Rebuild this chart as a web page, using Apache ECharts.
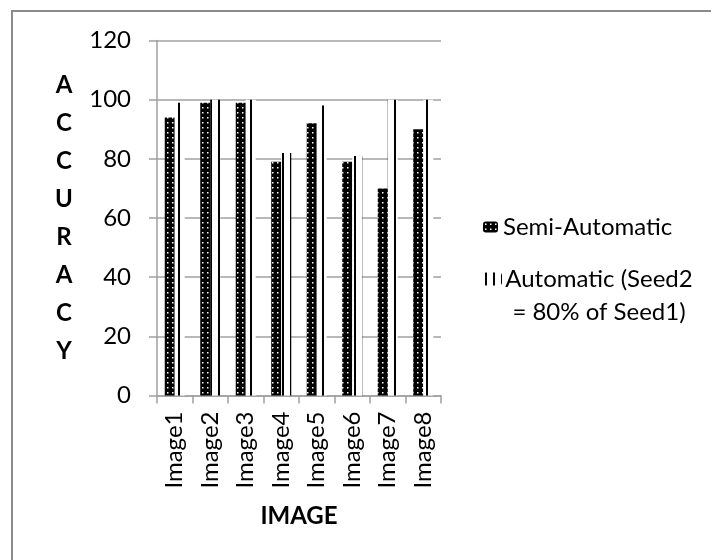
<!DOCTYPE html>
<html><head><meta charset="utf-8">
<script src="https://cdn.jsdelivr.net/npm/echarts@6/dist/echarts.min.js"></script>
<style>html,body{margin:0;padding:0;background:#fff}#c{width:711px;height:560px}</style>
</head><body><div id="c"></div>
<script>
const categories = ['Image1','Image2','Image3','Image4','Image5','Image6','Image7','Image8'];
const semiAutomatic = [94,99,99,79,92,79,70,90];
const automatic = [99,100,100,82,98,81,100,100];
const seriesNames = ['Semi-Automatic','Automatic (Seed2 = 80% of Seed1)'];
const yTitle = 'ACCURACY';
const xTitle = 'IMAGE';

const FONT = 'Lato';
const FS = 24;
function dotPattern(){
  const c=document.createElement('canvas'); c.width=10; c.height=10;
  const g=c.getContext('2d'); g.fillStyle='#000'; g.fillRect(0,0,10,10);
  g.fillStyle='#fff'; g.fillRect(4,4,3,3); return c;
}
function linePattern(){
  const c=document.createElement('canvas'); c.width=8; c.height=8;
  const g=c.getContext('2d'); g.fillStyle='#fff'; g.fillRect(0,0,8,8);
  g.fillStyle='#000'; g.fillRect(2,0,2,8); return c;
}
const chart = echarts.init(document.getElementById('c'), null, {renderer:'canvas'});
const gray = '#a0a0a0';
chart.setOption({
  animation:false,
  backgroundColor:'#fff',
  grid:{left:157,right:270,top:40.5,bottom:164.5,containLabel:false,outerBoundsMode:'none'},
  graphic:[{type:'rect',shape:{x:12,y:11,width:800,height:700},style:{fill:'none',stroke:'#8c8c8c',lineWidth:2},silent:true}],
  legend:[
    {data:[seriesNames[0]],left:483,top:212,orient:'vertical',padding:0,itemWidth:15,itemHeight:11,itemGap:0,
     textStyle:{fontFamily:FONT,fontSize:FS,color:'#000',lineHeight:30}},
    {data:[seriesNames[1]],left:483,top:267,orient:'vertical',padding:0,itemWidth:19,itemHeight:13,itemGap:0,
     formatter:function(){return '{a|Automatic (Seed2}\n{a|= 80% of Seed1)}';},
     textStyle:{fontFamily:FONT,fontSize:FS,color:'#000',padding:[33,0,0,0],
       rich:{a:{fontFamily:FONT,fontSize:FS,color:'#000',lineHeight:33,width:184,align:'center'}}}}
  ],
  xAxis:{type:'category',data:categories,
    name:xTitle,nameLocation:'middle',nameGap:121,
    nameTextStyle:{fontFamily:FONT,fontSize:FS,fontWeight:'bold',color:'#000',verticalAlign:'middle'},
    axisLine:{lineStyle:{color:gray,width:1.5}},
    axisTick:{show:true,length:8,lineStyle:{color:gray,width:1.5}},
    axisLabel:{rotate:90,margin:16,fontFamily:FONT,fontSize:FS,color:'#000'}},
  yAxis:{type:'value',min:0,max:120,interval:20,
    name:yTitle.split('').join('\n'),nameLocation:'middle',nameGap:93,nameRotate:0,
    nameTextStyle:{fontFamily:FONT,fontSize:FS,fontWeight:'bold',color:'#000',lineHeight:38,align:'center',verticalAlign:'middle',padding:[27,0,0,0]},
    axisLine:{show:true,lineStyle:{color:gray,width:1.5}},
    axisTick:{show:true,length:8,lineStyle:{color:gray,width:1.5}},
    splitLine:{lineStyle:{color:gray,width:1.5}},
    axisLabel:{margin:26,fontFamily:FONT,fontSize:FS,color:'#000'}},
  series:[
    {name:seriesNames[0],type:'bar',data:semiAutomatic,barWidth:10,barGap:'0%',
     itemStyle:{color:{image:dotPattern(),repeat:'repeat',scaleX:0.5,scaleY:0.5}}},
    {name:seriesNames[1],type:'bar',data:automatic,barWidth:10,barGap:'0%',
     itemStyle:{color:{image:linePattern(),repeat:'repeat'}}}
  ]
});
</script></body></html>
